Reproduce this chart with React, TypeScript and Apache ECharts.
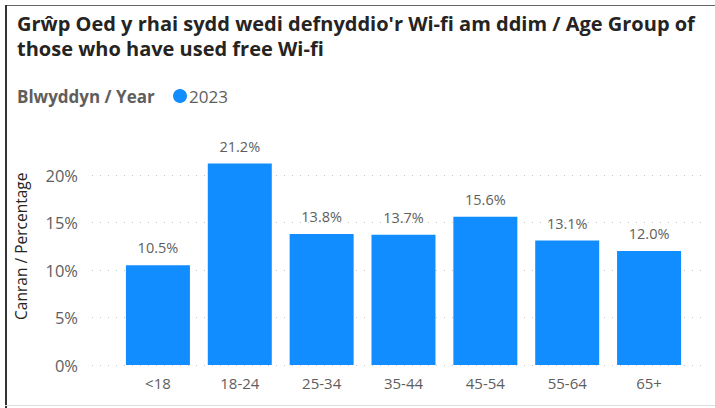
import React, { useEffect, useRef } from "react";
import * as echarts from "echarts";

const categories = ["<18", "18-24", "25-34", "35-44", "45-54", "55-64", "65+"];
const values2023 = [10.5, 21.2, 13.8, 13.7, 15.6, 13.1, 12.0];
const legendYear = "2023";
const titleLines = [
  "Grŵp Oed y rhai sydd wedi defnyddio'r Wi-fi am ddim / Age Group of",
  "those who have used free Wi-fi",
];
const legendTitle = "Blwyddyn / Year";
const yAxisName = "Canran / Percentage";

const FONT = "'Open Sans', 'Noto Sans', sans-serif";
const BLUE = "#118DFF";
const GREY = "#605E5C";

export default function App() {
  const ref = useRef<HTMLDivElement>(null);
  useEffect(() => {
    if (!ref.current) return;
    const chart = echarts.init(ref.current, undefined, { renderer: "svg" });
    chart.setOption({
      animation: false,
      backgroundColor: "#ffffff",
      textStyle: { fontFamily: FONT },
      grid: [
        { left: 92, right: 10, top: 127.5, bottom: 43 },
        { left: 117, right: 25, top: 127.5, bottom: 43 },
      ],
      xAxis: [
        {
          gridIndex: 0,
          type: "category",
          data: categories,
          show: false,
        },
        {
          gridIndex: 1,
          type: "category",
          data: categories,
          axisLine: { show: false },
          axisTick: { show: false },
          axisLabel: { color: GREY, fontSize: 15, fontFamily: FONT, margin: 10 },
        },
      ],
      yAxis: [
        {
          gridIndex: 0,
          type: "value",
          min: 0,
          max: 25,
          interval: 5,
          name: yAxisName,
          nameLocation: "middle",
          nameGap: 63,
          nameTextStyle: { color: "#252423", fontSize: 15.5, fontFamily: FONT },
          axisLabel: {
            color: GREY,
            fontSize: 16.5,
            fontFamily: FONT,
            margin: 14,
            showMaxLabel: false,
            formatter: (v: number) => v + "%",
          },
          axisLine: { show: false },
          axisTick: { show: false },
          splitLine: {
            show: true,
            showMaxLine: false,
            lineStyle: { color: "#C8C6C4", width: 1, type: [1, 7] },
          },
        },
        {
          gridIndex: 1,
          type: "value",
          min: 0,
          max: 25,
          interval: 5,
          show: false,
          splitLine: { show: false },
        },
      ],
      series: [
        {
          type: "bar",
          name: legendYear,
          xAxisIndex: 1,
          yAxisIndex: 1,
          data: values2023,
          barWidth: 64,
          itemStyle: { color: BLUE },
          label: {
            show: true,
            position: "top",
            distance: 10,
            color: GREY,
            fontSize: 14.5,
            fontFamily: FONT,
            formatter: (p: any) => p.value.toFixed(1) + "%",
          },
        },
      ],
      graphic: [
        { type: "rect", shape: { x: 5, y: 5, width: 710, height: 1 }, style: { fill: "#666" } },
        { type: "rect", shape: { x: 5, y: 5, width: 2, height: 403 }, style: { fill: "#333" } },
        { type: "rect", shape: { x: 5, y: 405, width: 710, height: 1 }, style: { fill: "#ddd" } },
        {
          type: "text",
          x: 17,
          y: 23,
          style: {
            text: titleLines[0],
            font: `bold 20px ${FONT}`,
            fill: "#252423",
            verticalAlign: "middle",
          },
        },
        {
          type: "text",
          x: 17,
          y: 48,
          style: {
            text: titleLines[1],
            font: `bold 20px ${FONT}`,
            fill: "#252423",
            verticalAlign: "middle",
          },
        },
        {
          type: "text",
          x: 17,
          y: 96,
          style: {
            text: legendTitle,
            font: `bold 17px ${FONT}`,
            fill: GREY,
            verticalAlign: "middle",
          },
        },
        {
          type: "circle",
          shape: { cx: 180, cy: 96, r: 7 },
          style: { fill: BLUE },
        },
        {
          type: "text",
          x: 189,
          y: 96,
          style: {
            text: legendYear,
            font: `17px ${FONT}`,
            fill: GREY,
            verticalAlign: "middle",
          },
        },
      ],
    });
    return () => chart.dispose();
  }, []);
  return (
    <div
      ref={ref}
      style={{ position: "fixed", left: 0, top: 0, width: 715, height: 408 }}
    />
  );
}
